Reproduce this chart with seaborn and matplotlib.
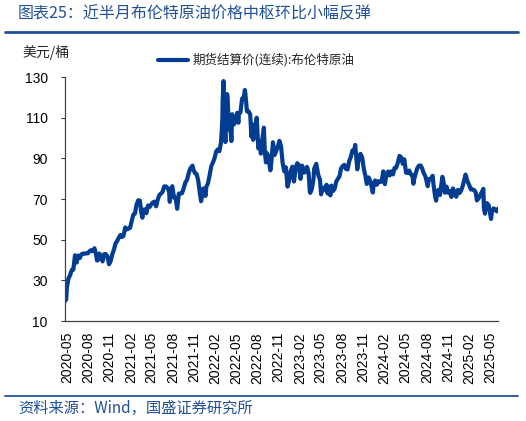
import pandas as pd
import matplotlib
matplotlib.use("Agg")
import matplotlib.pyplot as plt
import seaborn as sns

# Brent continuous settlement price, USD/bbl (~weekly plus turning points)
dates = [
    "2020-04-21", "2020-04-24", "2020-04-28", "2020-05-01", "2020-05-08", "2020-05-15", "2020-05-22", "2020-05-29",
    "2020-06-05", "2020-06-12", "2020-06-19", "2020-06-26", "2020-07-03", "2020-07-10", "2020-07-17", "2020-07-24",
    "2020-07-31", "2020-08-07", "2020-08-14", "2020-08-21", "2020-08-28", "2020-09-04", "2020-09-08", "2020-09-11",
    "2020-09-18", "2020-09-25", "2020-10-02", "2020-10-09", "2020-10-16", "2020-10-23", "2020-10-30", "2020-11-06",
    "2020-11-13", "2020-11-20", "2020-11-27", "2020-12-04", "2020-12-11", "2020-12-18", "2020-12-24", "2020-12-31",
    "2021-01-08", "2021-01-15", "2021-01-22", "2021-01-29", "2021-02-05", "2021-02-12", "2021-02-19", "2021-02-25",
    "2021-03-05", "2021-03-12", "2021-03-18", "2021-03-23", "2021-03-26", "2021-04-01", "2021-04-09", "2021-04-16",
    "2021-04-23", "2021-04-30", "2021-05-07", "2021-05-14", "2021-05-21", "2021-05-28", "2021-06-04", "2021-06-11",
    "2021-06-18", "2021-06-25", "2021-07-02", "2021-07-09", "2021-07-16", "2021-07-19", "2021-07-23", "2021-07-30",
    "2021-08-06", "2021-08-13", "2021-08-20", "2021-08-27", "2021-09-03", "2021-09-10", "2021-09-17", "2021-09-24",
    "2021-10-01", "2021-10-08", "2021-10-15", "2021-10-25", "2021-10-29", "2021-11-05", "2021-11-12", "2021-11-19",
    "2021-11-26", "2021-12-01", "2021-12-03", "2021-12-10", "2021-12-17", "2021-12-20", "2021-12-24", "2021-12-31",
    "2022-01-07", "2022-01-14", "2022-01-21", "2022-01-28", "2022-02-04", "2022-02-11", "2022-02-18", "2022-02-25",
    "2022-03-01", "2022-03-03", "2022-03-04", "2022-03-08", "2022-03-09", "2022-03-11", "2022-03-16", "2022-03-18",
    "2022-03-23", "2022-03-25", "2022-03-29", "2022-04-01", "2022-04-08", "2022-04-11", "2022-04-14", "2022-04-22",
    "2022-04-29", "2022-05-06", "2022-05-11", "2022-05-13", "2022-05-20", "2022-05-27", "2022-06-03", "2022-06-08",
    "2022-06-10", "2022-06-17", "2022-06-24", "2022-07-01", "2022-07-06", "2022-07-08", "2022-07-14", "2022-07-22",
    "2022-07-29", "2022-08-05", "2022-08-12", "2022-08-16", "2022-08-19", "2022-08-29", "2022-09-02", "2022-09-07",
    "2022-09-09", "2022-09-16", "2022-09-23", "2022-09-26", "2022-09-30", "2022-10-07", "2022-10-14", "2022-10-21",
    "2022-10-28", "2022-11-04", "2022-11-11", "2022-11-18", "2022-11-25", "2022-12-02", "2022-12-09", "2022-12-16",
    "2022-12-23", "2022-12-30", "2023-01-06", "2023-01-13", "2023-01-20", "2023-01-27", "2023-02-03", "2023-02-10",
    "2023-02-17", "2023-02-24", "2023-03-03", "2023-03-10", "2023-03-15", "2023-03-17", "2023-03-24", "2023-03-31",
    "2023-04-03", "2023-04-12", "2023-04-21", "2023-04-28", "2023-05-03", "2023-05-05", "2023-05-12", "2023-05-19",
    "2023-05-26", "2023-05-31", "2023-06-02", "2023-06-12", "2023-06-16", "2023-06-23", "2023-06-30", "2023-07-07",
    "2023-07-14", "2023-07-21", "2023-07-28", "2023-08-04", "2023-08-11", "2023-08-18", "2023-08-25", "2023-09-01",
    "2023-09-08", "2023-09-15", "2023-09-22", "2023-09-27", "2023-10-06", "2023-10-13", "2023-10-20", "2023-10-27",
    "2023-11-03", "2023-11-10", "2023-11-16", "2023-11-24", "2023-12-01", "2023-12-12", "2023-12-15", "2023-12-22",
    "2023-12-29", "2024-01-05", "2024-01-12", "2024-01-19", "2024-01-26", "2024-02-02", "2024-02-09", "2024-02-16",
    "2024-02-23", "2024-03-01", "2024-03-08", "2024-03-15", "2024-03-22", "2024-03-28", "2024-04-05", "2024-04-12",
    "2024-04-19", "2024-04-26", "2024-05-03", "2024-05-10", "2024-05-17", "2024-05-24", "2024-05-31", "2024-06-04",
    "2024-06-07", "2024-06-14", "2024-06-21", "2024-06-28", "2024-07-05", "2024-07-12", "2024-07-19", "2024-07-26",
    "2024-08-05", "2024-08-09", "2024-08-16", "2024-08-26", "2024-08-30", "2024-09-06", "2024-09-10", "2024-09-13",
    "2024-09-20", "2024-09-27", "2024-10-07", "2024-10-11", "2024-10-18", "2024-10-25", "2024-11-01", "2024-11-08",
    "2024-11-15", "2024-11-22", "2024-11-29", "2024-12-06", "2024-12-13", "2024-12-20", "2024-12-27", "2025-01-03",
    "2025-01-10", "2025-01-15", "2025-01-24", "2025-01-31", "2025-02-07", "2025-02-14", "2025-02-21", "2025-02-28",
    "2025-03-05", "2025-03-14", "2025-03-21", "2025-04-02", "2025-04-04", "2025-04-09", "2025-04-11", "2025-04-17",
    "2025-04-25", "2025-05-05", "2025-05-09", "2025-05-16", "2025-05-23", "2025-05-30", "2025-06-05",
]
brent = [
    19.3, 21.4, 20.5, 26.4, 31.0, 32.5, 35.1, 35.3,
    42.3, 38.7, 42.2, 41.0, 42.8, 43.2, 43.1, 43.3,
    43.3, 44.4, 44.8, 44.4, 45.8, 42.7, 39.8, 39.8,
    43.2, 41.9, 39.3, 42.9, 42.9, 41.8, 37.9, 39.5,
    42.8, 45.0, 48.2, 49.3, 51.0, 52.3, 51.3, 51.8,
    56.0, 55.1, 55.4, 55.9, 59.3, 62.4, 62.9, 67.0,
    69.4, 69.2, 63.3, 60.8, 64.6, 64.9, 63.0, 66.8,
    66.1, 67.3, 68.3, 68.7, 66.4, 69.6, 71.9, 72.7,
    73.5, 76.2, 76.2, 75.6, 73.6, 68.6, 74.1, 76.3,
    70.7, 70.6, 65.2, 72.7, 72.6, 72.9, 75.3, 78.1,
    79.3, 82.4, 84.9, 86.4, 84.4, 82.7, 82.2, 78.9,
    72.7, 68.9, 69.9, 75.2, 73.5, 71.5, 76.1, 77.8,
    81.8, 86.1, 87.9, 90.0, 93.3, 94.4, 93.5, 97.9,
    105.0, 110.5, 118.1, 128.0, 111.1, 112.7, 98.0, 107.9,
    121.6, 120.7, 110.2, 104.4, 102.8, 98.5, 111.7, 106.7,
    109.3, 112.4, 107.5, 111.6, 112.6, 119.4, 119.7, 123.6,
    122.0, 113.1, 113.1, 111.6, 100.7, 107.0, 99.1, 103.2,
    110.0, 94.9, 98.2, 92.3, 96.7, 105.1, 93.0, 88.0,
    92.8, 91.4, 86.2, 84.1, 88.0, 97.9, 91.6, 93.5,
    95.8, 98.6, 96.0, 87.6, 83.6, 85.6, 76.1, 79.0,
    83.9, 85.9, 78.6, 85.3, 87.6, 86.7, 79.9, 86.4,
    83.0, 83.2, 85.8, 82.8, 73.7, 73.0, 75.0, 79.8,
    84.9, 87.3, 81.7, 79.5, 72.3, 75.3, 74.2, 75.6,
    77.0, 72.7, 76.1, 71.8, 76.6, 73.9, 74.9, 78.5,
    79.9, 81.1, 85.0, 86.2, 86.8, 84.8, 84.5, 88.6,
    90.7, 93.9, 93.3, 96.6, 84.6, 90.9, 92.2, 90.5,
    84.9, 81.4, 77.4, 80.6, 78.9, 73.2, 76.6, 79.1,
    77.0, 78.8, 78.3, 78.6, 83.6, 77.3, 82.2, 83.5,
    81.6, 83.6, 82.1, 85.3, 85.4, 87.5, 91.2, 90.5,
    87.3, 89.5, 83.0, 82.8, 84.0, 82.1, 81.6, 77.5,
    79.6, 82.6, 85.2, 86.4, 86.5, 85.0, 82.6, 81.1,
    76.3, 79.7, 79.7, 81.4, 76.9, 71.1, 69.2, 71.6,
    74.5, 72.0, 80.9, 79.0, 73.1, 76.1, 73.1, 73.9,
    71.0, 75.2, 72.9, 71.1, 74.5, 72.9, 74.2, 76.5,
    79.8, 82.0, 78.5, 76.8, 74.7, 74.7, 74.4, 73.2,
    69.3, 70.6, 72.2, 75.0, 65.6, 62.8, 64.8, 68.0,
    66.9, 60.2, 63.9, 65.4, 64.8, 63.9, 65.3,
]
tick_months = pd.date_range("2020-05-01", "2025-05-01", freq="3MS")
yticks = [10, 30, 50, 70, 90, 110, 130]

title = "图表25：近半月布伦特原油价格中枢环比小幅反弹"
series_name = "期货结算价(连续):布伦特原油"
unit = "美元/桶"
source = "资料来源：Wind，国盛证券研究所"

df = pd.DataFrame({"date": pd.to_datetime(dates), "brent": brent})

sns.set_style("ticks")
plt.rcParams["font.family"] = ["Liberation Sans", "Noto Sans CJK SC"]
cjk = ["Noto Sans CJK SC", "Liberation Sans"]

line_blue = "#033d92"
text_blue = "#21509a"

fig = plt.figure(figsize=(5.26, 4.21), dpi=100)
ax = fig.add_axes([0.1227, 0.2375, 0.8245, 0.5796])

sns.lineplot(data=df, x="date", y="brent", ax=ax, color=line_blue, linewidth=3.0, label=series_name)

ax.set_xlim(df["date"].iloc[0], df["date"].iloc[-1])
ax.set_ylim(10, 130)
ax.set_yticks(yticks)
ax.set_xticks(tick_months)
ax.set_xticklabels([d.strftime("%Y-%m") for d in tick_months], rotation=90)
ax.set_xlabel("")
ax.set_ylabel("")
ax.tick_params(axis="y", labelsize=10, length=3, width=0.8, pad=9, colors="#333333", labelcolor="black")
ax.tick_params(axis="x", labelsize=10, length=0, pad=8, labelcolor="black")
sns.despine(ax=ax)
for side in ["left", "bottom"]:
    ax.spines[side].set_color("#444444")
    ax.spines[side].set_linewidth(0.9)

leg = ax.legend(loc="center", bbox_to_anchor=(0.487, 0.857), bbox_transform=fig.transFigure,
                frameon=False, handlelength=2.4, handletextpad=0.4, prop={"family": cjk, "size": 9})

fig.text(0.042, 0.875, unit, fontsize=10, family=cjk, ha="left", va="center")
fig.text(0.034, 0.968, title, fontsize=11.5, family=cjk, color=text_blue, ha="left", va="center")
fig.text(0.034, 0.030, source, fontsize=11, family=cjk, color=text_blue, ha="left", va="center")

fig.add_artist(plt.Line2D([0.01, 0.985], [0.925, 0.925], transform=fig.transFigure, color=text_blue, linewidth=2.0))
fig.add_artist(plt.Line2D([0.01, 0.985], [0.059, 0.059], transform=fig.transFigure, color=text_blue, linewidth=1.3))

fig.savefig("out.png", dpi=100)
